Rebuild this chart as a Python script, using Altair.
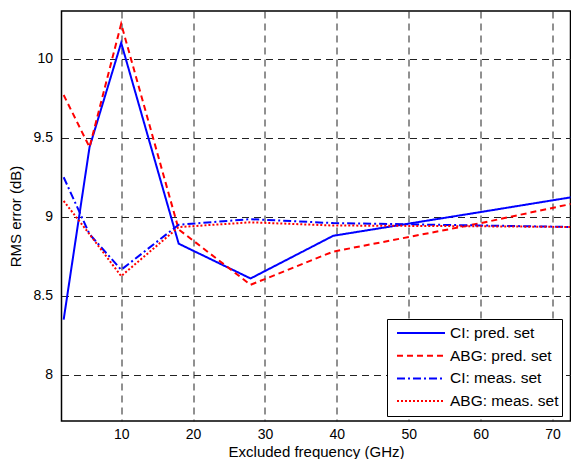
import altair as alt
import pandas as pd

freq = [2, 5.6, 10, 18, 28, 39.5, 60, 73.5]
ci_pred = [8.35, 9.44, 10.10, 8.83, 8.61, 8.88, 9.03, 9.13]
abg_pred = [9.77, 9.44, 10.22, 8.92, 8.57, 8.78, 8.96, 9.09]
ci_meas = [9.25, 8.89, 8.665, 8.95, 8.985, 8.96, 8.945, 8.935]
abg_meas = [9.10, 8.89, 8.625, 8.935, 8.965, 8.945, 8.94, 8.935]

series_names = ["CI: pred. set", "ABG: pred. set", "CI: meas. set", "ABG: meas. set"]
series_values = [ci_pred, abg_pred, ci_meas, abg_meas]
colors = ["#0000FF", "#FF0000", "#0000FF", "#FF0000"]
dashes = [[1, 0], [6, 4], [8, 3, 2, 3], [2, 2]]

x_ticks = [10, 20, 30, 40, 50, 60, 70]
y_ticks = [8, 8.5, 9, 9.5, 10]

rows = []
for name, vals in zip(series_names, series_values):
    for f, v in zip(freq, vals):
        rows.append({"freq": f, "rms": v, "series": name})
df = pd.DataFrame(rows)

FONT = "Liberation Sans"
PLOT_W = 509
PLOT_H = 410

chart = alt.Chart(df).mark_line(strokeWidth=2, clip=True).encode(
    x=alt.X("freq:Q",
            scale=alt.Scale(domain=[1.7, 72.5], nice=False, zero=False),
            axis=alt.Axis(values=x_ticks, title="Excluded frequency (GHz)",
                          titleY=30, titleBaseline="middle", labelPadding=6)),
    y=alt.Y("rms:Q",
            scale=alt.Scale(domain=[7.709, 10.301], nice=False, zero=False),
            axis=alt.Axis(values=y_ticks, format=".1~f", title="RMS error (dB)",
                          titleX=-46, titleY=PLOT_H / 2, titleAngle=270, titleAlign="center",
                          titleBaseline="middle", labelPadding=9)),
    color=alt.Color("series:N", scale=alt.Scale(domain=series_names, range=colors),
                    legend=alt.Legend(title=None, orient="none", legendX=325.5, legendY=308,
                                      symbolType="stroke", symbolSize=2304, symbolStrokeWidth=2,
                                      clipHeight=22, rowPadding=0.7, padding=3,
                                      symbolOffset=6, labelOffset=4,
                                      strokeColor="black", fillColor="white",
                                      labelFont=FONT, labelFontSize=15.5, labelColor="black")),
    strokeDash=alt.StrokeDash("series:N", scale=alt.Scale(domain=series_names, range=dashes),
                              legend=None),
    order=alt.Order("freq:Q"),
).properties(
    width=PLOT_W,
    height=PLOT_H,
    autosize=alt.AutoSizeParams(type="none"),
    padding={"left": 53.5, "top": 3, "right": 0.5, "bottom": 38},
).configure_view(
    stroke="black", strokeWidth=1.5
).configure_axis(
    domain=False,
    ticks=False,
    grid=True,
    gridColor="#222222",
    gridDash=[7, 5],
    gridWidth=1,
    gridOpacity=1,
    labelFont=FONT,
    labelFontSize=14,
    labelColor="black",
    titleFont=FONT,
    titleFontSize=15,
    titleFontWeight="normal",
    titleColor="black",
)

chart.save("out.html", embed_options={"renderer": "svg", "actions": False})
